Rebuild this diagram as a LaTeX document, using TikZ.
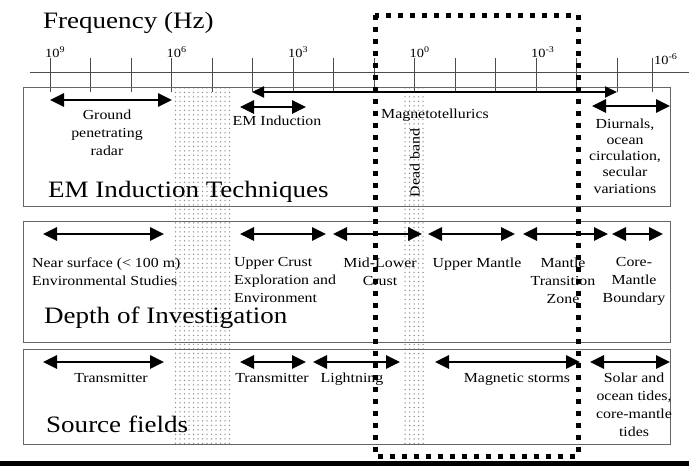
\documentclass[tikz,border=0pt]{standalone}
\usepackage{fontspec}
\setmainfont{Liberation Serif}[FakeStretch=1.15]
\usetikzlibrary{arrows.meta,patterns.meta}

\begin{document}
\begin{tikzpicture}[
  x=1pt, y=-1pt,
  band/.style={draw=black!60, line width=1pt},
  tickline/.style={draw=black!70, line width=0.9pt},
  spanarrow/.style={line width=2.8pt,
    {Triangle[length=14pt,width=13pt]}-{Triangle[length=14pt,width=13pt]}},
  thinspan/.style={line width=2pt,
    {Triangle[length=12pt,width=11pt]}-{Triangle[length=12pt,width=11pt]}},
  lbl/.style={inner sep=0pt, align=center, anchor=north,
    font=\fontsize{13.8}{18}\selectfont},
  word/.style={inner sep=0pt, anchor=base,
    font=\fontsize{13.8}{18}\selectfont},
  title/.style={inner sep=0pt, anchor=base west,
    font=\fontsize{23.5}{26}\selectfont},
  freq/.style={inner sep=0pt, anchor=base west,
    font=\fontsize{12.5}{13}\selectfont},
  stipple/.style={pattern={Dots[distance=4.5pt,radius=0.75pt]}, pattern color=black!45},
  window/.style={line width=5pt, dash pattern=on 5pt off 7pt},
  ]
  \useasboundingbox (0,0) rectangle (689,466);

  % shaded bands
  \fill[stipple] (172,87) rectangle (230,444);
  \fill[stipple] (402,87) rectangle (426,444);

  % frequency axis
  \node[title] (freqtitle) at (43,28) {Frequency (Hz)};
  \coordinate (axisL) at (30,72);
  \coordinate (axisR) at (689,72);
  \draw[tickline] (axisL) -- (axisR);
  \foreach \i in {0,...,14}
    \draw[tickline] ({50+40.5*\i},58) -- ({50+40.5*\i},92);
  \draw[tickline] (652,58) -- (652,92);
  \foreach \i/\e in {0/9,3/6,6/3,9/0,12/-3}
    \node[freq] (f\i) at ({45+40.5*\i},57) {10\textsuperscript{\e}};
  \node[freq] (f15) at (654,64) {10\textsuperscript{-6}};

  % panels
  \draw[band] (23,87) rectangle (670,206);
  \draw[band] (23,221) rectangle (670,342);
  \draw[band] (23,349) rectangle (670,444);

  % EM induction techniques
  \node[lbl] (gpr) at (107,109.5) {Ground\\penetrating\\radar};
  \node[word] (emi) at (277,125) {EM Induction};
  \node[word, anchor=base west] (mt) at (381,118) {Magnetotellurics};
  \node[lbl, font=\fontsize{13.8}{16.2}\selectfont] (diur) at (625,118.5)
    {Diurnals,\\ocean\\circulation,\\secular\\variations};
  \node[word, rotate=90, anchor=center] (dead) at (415,163) {Dead band};
  \node[title] (emtitle) at (48,197) {EM Induction Techniques};

  % depth of investigation
  \node[lbl, align=left, anchor=north west] (near) at (32,257.5)
    {Near surface (< 100 m)\\Environmental Studies};
  \node[lbl, align=left, anchor=north west] (upcrust) at (234,257.5)
    {Upper Crust\\Exploration and\\Environment};
  \node[lbl] (midcrust) at (380,257.5) {Mid-Lower\\Crust};
  \node[word] (upmantle) at (477,267) {Upper Mantle};
  \node[lbl] (transz) at (563,257.5) {Mantle\\Transition\\Zone};
  \node[lbl] (cmb) at (634,257.5) {Core-\\Mantle\\Boundary};
  \node[title] (depthtitle) at (44,323) {Depth of Investigation};

  % source fields
  \node[word] (tx1) at (111,382) {Transmitter};
  \node[word] (tx2) at (272,382) {Transmitter};
  \node[word] (light) at (352,382) {Lightning};
  \node[word] (storm) at (517,382) {Magnetic storms};
  \node[lbl] (tides) at (634,372.5)
    {Solar and\\ocean tides,\\core-mantle\\tides};
  \node[title] (srctitle) at (46,432) {Source fields};

  % ranges
  \foreach \n/\a/\b/\y in {gprR/50/172/100, emiR/240/306/107, diurR/592/670/106,
      nearR/43/164/234, upcR/240/326/234, midR/333/422/234, upmR/428/515/234,
      trzR/523/608/234, cmbR/612/663/234,
      tx1R/43/164/362, tx2R/240/306/362, lightR/313/400/362, stormR/435/580/362,
      tideR/590/670/362} {
    \coordinate (\n-l) at (\a,\y);
    \coordinate (\n-r) at (\b,\y);
    \draw[spanarrow] (\n-l) -- (\n-r);
  }
  \coordinate (mtR-l) at (252,92);
  \coordinate (mtR-r) at (617,92);
  \draw[thinspan] (mtR-l) -- (mtR-r);

  % MT window
  \draw[window] (375,15) rectangle (578,456);

  \fill (0,461) rectangle (689,466);
\end{tikzpicture}
\end{document}
